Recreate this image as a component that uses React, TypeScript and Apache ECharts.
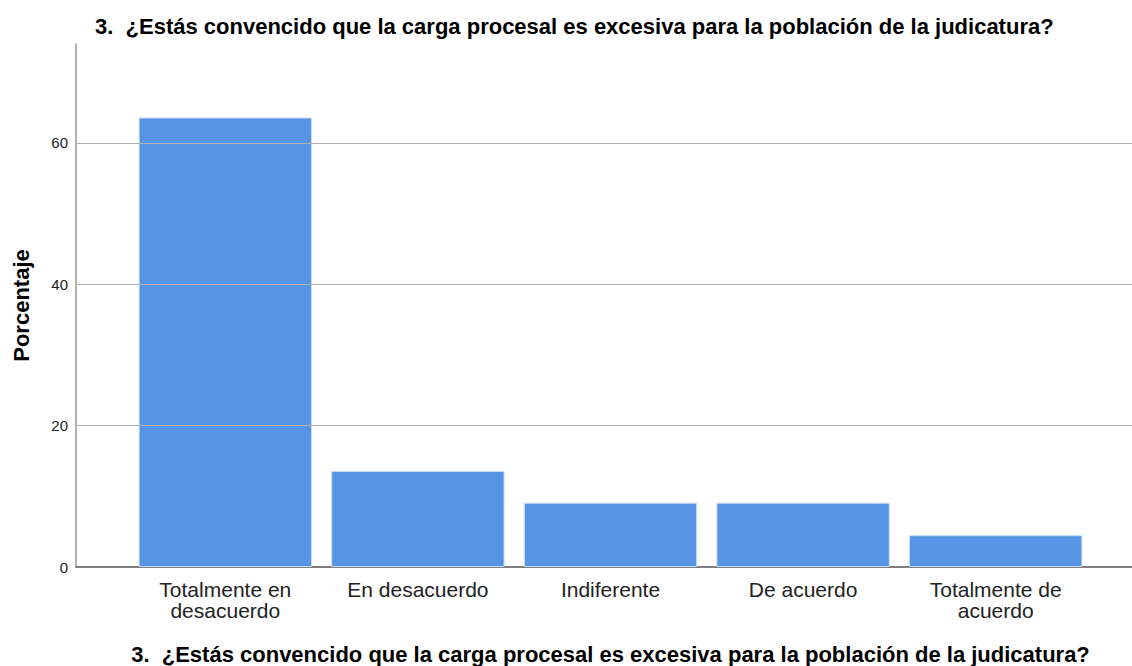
import React, { useEffect, useRef } from "react";
import * as echarts from "echarts";

const titleText = "3.  ¿Estás convencido que la carga procesal es excesiva para la población de la judicatura?";
const categories = [
  "Totalmente en\ndesacuerdo",
  "En desacuerdo",
  "Indiferente",
  "De acuerdo",
  "Totalmente de\nacuerdo",
];
const percentages = [63.6, 13.6, 9.1, 9.1, 4.5];
const yTickValues = [0, 20, 40, 60];
const gridLineValues = [20, 40, 60];
const yMax = 74;

const FONT = "'Liberation Sans', Arial, sans-serif";

export default function App() {
  const ref = useRef<HTMLDivElement>(null);
  useEffect(() => {
    document.body.style.margin = "0";
    if (!ref.current) return;
    const chart = echarts.init(ref.current, undefined, { renderer: "svg" });
    const top = 44;
    const bottom = 99;
    chart.setOption({
      animation: false,
      backgroundColor: "#ffffff",
      textStyle: { fontFamily: FONT },
      title: {
        text: titleText,
        left: 95,
        top: 15,
        padding: 0,
        textStyle: { fontFamily: FONT, fontSize: 22, fontWeight: "bold", color: "#000" },
      },
      grid: [
        { left: 129, right: 40, top, bottom, outerBoundsMode: "none", containLabel: false },
        { left: 76, right: 0, top, bottom, outerBoundsMode: "none", containLabel: false },
      ],
      xAxis: [
        {
          type: "category",
          gridIndex: 0,
          data: categories,
          axisLine: { show: false },
          axisTick: { show: false },
          axisLabel: {
            margin: 12,
            fontSize: 21,
            lineHeight: 21,
            color: "#222",
            fontFamily: FONT,
            interval: 0,
          },
          name: titleText,
          nameLocation: "middle",
          nameGap: 76,
          nameTextStyle: { fontFamily: FONT, fontSize: 22, fontWeight: "bold", color: "#000" },
        },
        {
          type: "value",
          gridIndex: 1,
          min: 0,
          max: 1,
          axisLine: { show: true, lineStyle: { color: "#555", width: 1.5 } },
          axisTick: { show: false },
          axisLabel: { show: false },
          splitLine: { show: false },
        },
      ],
      yAxis: [
        {
          type: "value",
          gridIndex: 0,
          min: 0,
          max: yMax,
          show: false,
          splitLine: { show: false },
        },
        {
          type: "value",
          gridIndex: 1,
          min: 0,
          max: yMax,
          interval: 20,
          axisLine: { show: true, lineStyle: { color: "#999", width: 1.5 } },
          axisTick: { show: false },
          splitLine: { show: false },
          axisLabel: {
            margin: 8,
            fontSize: 15,
            color: "#222",
            fontFamily: FONT,
            formatter: (v: number) => (yTickValues.includes(v) ? String(v) : ""),
          },
          name: "Porcentaje",
          nameLocation: "middle",
          nameGap: 44,
          nameTextStyle: { fontFamily: FONT, fontSize: 22, fontWeight: "bold", color: "#000" },
        },
      ],
      series: [
        {
          type: "line",
          xAxisIndex: 1,
          yAxisIndex: 1,
          data: [],
          silent: true,
          z: 1,
          markLine: {
            silent: true,
            symbol: "none",
            label: { show: false },
            lineStyle: { color: "#b4b4b4", width: 1, type: "solid" },
            data: gridLineValues.map((v) => ({ yAxis: v })),
          },
        },
        {
          type: "bar",
          xAxisIndex: 0,
          yAxisIndex: 0,
          data: percentages,
          barCategoryGap: "10%",
          z: 3,
          itemStyle: { color: "#5595e4", borderColor: "#c9dcf5", borderWidth: 1 },
        },
      ],
    });
    return () => chart.dispose();
  }, []);
  return <div ref={ref} style={{ width: 1132, height: 666 }} />;
}
